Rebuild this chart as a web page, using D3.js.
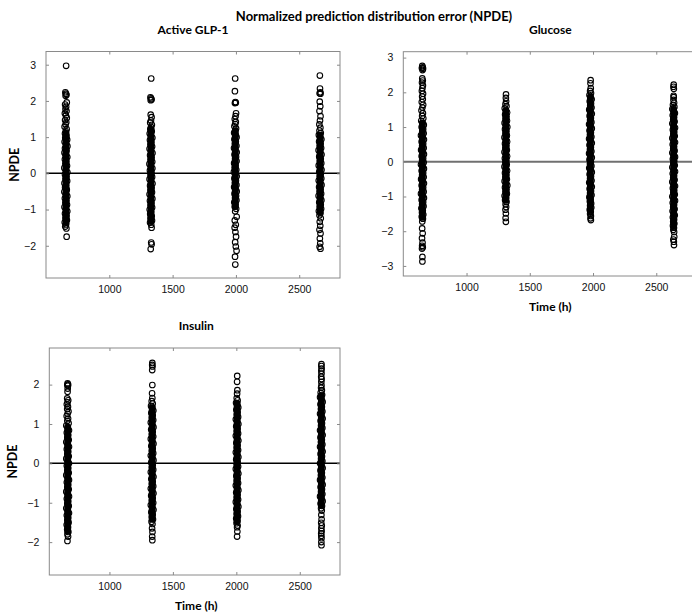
<!DOCTYPE html>
<html>
<head>
<meta charset="utf-8">
<script src="https://cdn.jsdelivr.net/npm/d3@7"></script>
<style>
body { margin: 0; background: #fff; }
svg { display: block; font-family: Lato, "Open Sans", sans-serif; }
.tick text { font-size: 10.5px; fill: #111; }
</style>
</head>
<body>
<svg id="chart" width="692" height="615"></svg>
<script>
"use strict";

const timeTicks = [1000, 1500, 2000, 2500];
const glp1Ticks = [-2, -1, 0, 1, 2, 3];
const glucoseTicks = [-3, -2, -1, 0, 1, 2, 3];
const insulinTicks = [-2, -1, 0, 1, 2];

// [time (h), NPDE] per visit
const glp1 = [
  [[659,2.97],[653,2.24],[657,2.2],[662,2.17],[655,2.14],[664,1.96],[651,1.9],[659,1.84],[654,1.78],[662,1.72],[649,1.66],[657,1.6],[664,1.53],[651,1.47],[660,1.41],[655,1.35],[647,1.29],[663,1.22],[656,1.16],[650,1.1],[661,1.04],[652,0.98],[667,0.93],[647,0.87],[658,0.81],[669,0.75],[650,0.69],[662,0.63],[646,0.57],[655,0.51],[668,0.45],[649,0.39],[660,0.33],[653,0.27],[666,0.21],[645,0.15],[657,0.09],[669,0.03],[650,-0.03],[662,-0.09],[654,-0.15],[667,-0.21],[646,-0.27],[658,-0.33],[651,-0.39],[664,-0.45],[645,-0.51],[656,-0.57],[668,-0.63],[649,-0.69],[661,-0.75],[653,-0.81],[666,-0.87],[646,-0.93],[657,-0.99],[668,-1.05],[650,-1.11],[662,-1.17],[654,-1.23],[665,-1.29],[648,-1.35],[658,-1.41],[652,-1.47],[661,-1.52],[663,-1.75]],
  [[1331,2.62],[1325,2.1],[1330,2.07],[1334,2.04],[1327,2.02],[1327,1.62],[1334,1.55],[1329,1.46],[1323,1.4],[1336,1.34],[1330,1.28],[1324,1.22],[1335,1.16],[1319,1.1],[1329,1.04],[1340,0.98],[1321,0.92],[1332,0.86],[1325,0.8],[1338,0.74],[1318,0.68],[1330,0.62],[1341,0.56],[1322,0.5],[1334,0.44],[1326,0.38],[1339,0.32],[1317,0.26],[1328,0.2],[1340,0.14],[1321,0.08],[1333,0.02],[1326,-0.04],[1338,-0.1],[1318,-0.16],[1330,-0.22],[1341,-0.28],[1322,-0.34],[1334,-0.4],[1325,-0.46],[1337,-0.52],[1318,-0.58],[1329,-0.64],[1340,-0.7],[1321,-0.76],[1333,-0.82],[1326,-0.88],[1338,-0.94],[1319,-1.0],[1330,-1.06],[1323,-1.12],[1335,-1.18],[1326,-1.24],[1337,-1.3],[1322,-1.36],[1331,-1.42],[1334,-1.5],[1331,-1.91],[1334,-1.96],[1327,-2.09]],
  [[1994,2.62],[1992,2.27],[1996,1.97],[1992,1.94],[1999,1.95],[2001,1.66],[1997,1.58],[1991,1.5],[1999,1.42],[1994,1.36],[1988,1.3],[2001,1.24],[1995,1.18],[1986,1.12],[1998,1.06],[2005,1.0],[1988,0.94],[1999,0.88],[1992,0.82],[2004,0.76],[1985,0.7],[1996,0.64],[2006,0.58],[1989,0.52],[2001,0.46],[1994,0.4],[2005,0.34],[1986,0.28],[1997,0.22],[1990,0.16],[2003,0.1],[1984,0.04],[1996,-0.02],[2006,-0.08],[1988,-0.14],[2000,-0.2],[1992,-0.26],[2004,-0.32],[1986,-0.38],[1997,-0.44],[2006,-0.5],[1989,-0.56],[2001,-0.62],[1994,-0.68],[2004,-0.74],[1987,-0.8],[1997,-0.86],[1991,-0.92],[2002,-0.98],[1994,-1.05],[2006,-1.2],[1991,-1.3],[1999,-1.42],[1990,-1.5],[1996,-1.62],[2001,-1.75],[1994,-1.9],[1999,-2.02],[2005,-2.14],[1993,-2.3],[1995,-2.52]],
  [[2663,2.7],[2664,2.34],[2667,2.24],[2661,2.21],[2668,2.2],[2662,1.98],[2666,1.85],[2660,1.72],[2668,1.58],[2664,1.46],[2659,1.35],[2667,1.26],[2660,1.18],[2670,1.12],[2655,1.06],[2665,1.0],[2675,0.94],[2657,0.88],[2669,0.82],[2662,0.76],[2673,0.7],[2653,0.64],[2665,0.58],[2676,0.52],[2658,0.46],[2670,0.4],[2663,0.34],[2674,0.28],[2654,0.22],[2666,0.16],[2676,0.1],[2658,0.04],[2670,-0.02],[2662,-0.08],[2674,-0.14],[2654,-0.2],[2665,-0.26],[2676,-0.32],[2657,-0.38],[2669,-0.44],[2661,-0.5],[2673,-0.56],[2653,-0.62],[2665,-0.68],[2675,-0.74],[2658,-0.8],[2670,-0.86],[2662,-0.92],[2673,-0.98],[2655,-1.04],[2667,-1.1],[2660,-1.16],[2670,-1.24],[2662,-1.34],[2666,-1.45],[2660,-1.56],[2668,-1.66],[2663,-1.8],[2666,-1.93],[2661,-2.03],[2668,-2.08]]
];

const glucose = [
  [[650,2.76],[654,2.72],[647,2.7],[656,2.68],[652,2.64],[650,2.4],[654,2.34],[648,2.28],[655,2.2],[651,2.12],[647,2.04],[656,1.96],[649,1.88],[654,1.8],[646,1.72],[657,1.64],[651,1.56],[644,1.48],[655,1.4],[649,1.32],[658,1.25],[642,1.18],[652,1.12],[662,1.06],[645,1.0],[657,0.94],[650,0.88],[661,0.82],[640,0.76],[653,0.7],[663,0.64],[645,0.58],[657,0.52],[649,0.46],[661,0.4],[641,0.34],[653,0.28],[663,0.22],[645,0.16],[657,0.1],[649,0.04],[661,-0.02],[640,-0.08],[653,-0.14],[663,-0.2],[645,-0.26],[657,-0.32],[649,-0.38],[661,-0.44],[641,-0.5],[653,-0.56],[663,-0.62],[645,-0.68],[657,-0.74],[649,-0.8],[661,-0.86],[640,-0.92],[653,-0.98],[663,-1.04],[645,-1.1],[657,-1.16],[649,-1.22],[660,-1.28],[643,-1.34],[654,-1.4],[648,-1.46],[658,-1.52],[646,-1.58],[655,-1.64],[650,-1.72],[649,-1.92],[653,-2.06],[648,-2.2],[652,-2.33],[649,-2.42],[654,-2.46],[648,-2.5],[651,-2.74],[651,-2.87]],
  [[1312,1.94],[1311,1.84],[1313,1.74],[1308,1.66],[1316,1.6],[1302,1.54],[1312,1.48],[1321,1.42],[1305,1.36],[1316,1.3],[1309,1.24],[1320,1.18],[1301,1.12],[1312,1.06],[1322,1.0],[1304,0.94],[1315,0.88],[1308,0.82],[1319,0.76],[1300,0.7],[1311,0.64],[1321,0.58],[1304,0.52],[1315,0.46],[1307,0.4],[1319,0.34],[1300,0.28],[1311,0.22],[1321,0.16],[1303,0.1],[1314,0.04],[1307,-0.02],[1318,-0.08],[1300,-0.14],[1311,-0.2],[1321,-0.26],[1304,-0.32],[1315,-0.38],[1307,-0.44],[1319,-0.5],[1301,-0.56],[1312,-0.62],[1322,-0.68],[1304,-0.74],[1316,-0.8],[1308,-0.86],[1319,-0.92],[1301,-0.98],[1312,-1.04],[1305,-1.1],[1316,-1.16],[1309,-1.22],[1313,-1.3],[1308,-1.38],[1311,-1.49],[1309,-1.62],[1311,-1.73]],
  [[1981,2.35],[1980,2.26],[1982,2.12],[1977,2.04],[1984,1.98],[1972,1.92],[1981,1.86],[1989,1.8],[1974,1.74],[1984,1.68],[1978,1.62],[1988,1.56],[1970,1.5],[1980,1.44],[1990,1.38],[1973,1.32],[1983,1.26],[1977,1.2],[1987,1.14],[1969,1.08],[1980,1.02],[1990,0.96],[1972,0.9],[1983,0.84],[1976,0.78],[1987,0.72],[1969,0.66],[1980,0.6],[1990,0.54],[1972,0.48],[1983,0.42],[1976,0.36],[1987,0.3],[1969,0.24],[1980,0.18],[1990,0.12],[1972,0.06],[1983,0.0],[1976,-0.06],[1987,-0.12],[1970,-0.18],[1981,-0.24],[1990,-0.3],[1973,-0.36],[1984,-0.42],[1977,-0.48],[1988,-0.54],[1970,-0.6],[1981,-0.66],[1990,-0.72],[1973,-0.78],[1984,-0.84],[1977,-0.9],[1988,-0.96],[1971,-1.02],[1981,-1.08],[1975,-1.14],[1985,-1.2],[1977,-1.26],[1986,-1.32],[1974,-1.38],[1982,-1.44],[1977,-1.5],[1983,-1.56],[1980,-1.63],[1983,-1.68]],
  [[2638,2.22],[2636,2.16],[2639,2.1],[2637,1.9],[2638,1.86],[2636,1.78],[2641,1.7],[2632,1.64],[2643,1.58],[2627,1.52],[2638,1.46],[2647,1.4],[2630,1.34],[2641,1.28],[2634,1.22],[2645,1.16],[2627,1.1],[2638,1.04],[2648,0.98],[2631,0.92],[2642,0.86],[2635,0.8],[2646,0.74],[2627,0.68],[2638,0.62],[2648,0.56],[2630,0.5],[2641,0.44],[2634,0.38],[2645,0.32],[2627,0.26],[2638,0.2],[2648,0.14],[2631,0.08],[2642,0.02],[2635,-0.04],[2646,-0.1],[2627,-0.16],[2638,-0.22],[2648,-0.28],[2630,-0.34],[2641,-0.4],[2634,-0.46],[2645,-0.52],[2627,-0.58],[2638,-0.64],[2648,-0.7],[2631,-0.76],[2642,-0.82],[2635,-0.88],[2646,-0.94],[2627,-1.0],[2638,-1.06],[2648,-1.12],[2630,-1.18],[2641,-1.24],[2634,-1.3],[2645,-1.36],[2629,-1.42],[2639,-1.48],[2646,-1.54],[2631,-1.6],[2641,-1.66],[2634,-1.72],[2643,-1.78],[2632,-1.84],[2640,-1.9],[2635,-1.96],[2641,-2.02],[2642,-2.16],[2635,-2.24],[2639,-2.3],[2640,-2.4]]
];

const insulin = [
  [[670,2.03],[674,2.01],[668,1.99],[673,1.97],[671,1.9],[670,1.82],[667,1.65],[675,1.6],[670,1.55],[664,1.5],[673,1.44],[667,1.38],[677,1.32],[670,1.26],[663,1.2],[674,1.14],[668,1.08],[678,1.02],[660,0.96],[671,0.9],[681,0.84],[664,0.78],[675,0.72],[668,0.66],[679,0.6],[660,0.54],[671,0.48],[681,0.42],[664,0.36],[675,0.3],[668,0.24],[679,0.18],[660,0.12],[671,0.06],[681,0.0],[664,-0.06],[675,-0.12],[668,-0.18],[679,-0.24],[660,-0.3],[671,-0.36],[681,-0.42],[664,-0.48],[675,-0.54],[668,-0.6],[679,-0.66],[660,-0.72],[671,-0.78],[681,-0.84],[664,-0.9],[675,-0.96],[668,-1.02],[679,-1.08],[660,-1.14],[671,-1.2],[681,-1.26],[664,-1.32],[675,-1.38],[668,-1.44],[678,-1.5],[663,-1.56],[673,-1.62],[667,-1.68],[676,-1.74],[669,-1.8],[674,-1.86],[669,-1.97]],
  [[1338,2.55],[1337,2.5],[1339,2.46],[1337,2.37],[1338,1.99],[1336,1.78],[1338,1.66],[1333,1.58],[1341,1.52],[1328,1.46],[1337,1.4],[1346,1.34],[1330,1.28],[1341,1.22],[1334,1.16],[1345,1.1],[1326,1.04],[1337,0.98],[1347,0.92],[1329,0.86],[1341,0.8],[1334,0.74],[1345,0.68],[1326,0.62],[1337,0.56],[1347,0.5],[1330,0.44],[1341,0.38],[1334,0.32],[1345,0.26],[1326,0.2],[1337,0.14],[1347,0.08],[1329,0.02],[1341,-0.04],[1334,-0.1],[1345,-0.16],[1326,-0.22],[1337,-0.28],[1347,-0.34],[1330,-0.4],[1341,-0.46],[1334,-0.52],[1345,-0.58],[1326,-0.64],[1337,-0.7],[1347,-0.76],[1329,-0.82],[1341,-0.88],[1334,-0.94],[1345,-1.0],[1326,-1.06],[1337,-1.12],[1347,-1.18],[1330,-1.24],[1341,-1.3],[1334,-1.36],[1343,-1.42],[1332,-1.48],[1339,-1.54],[1336,-1.65],[1339,-1.74],[1337,-1.86],[1338,-1.95]],
  [[2007,2.22],[2006,2.07],[2008,1.86],[2006,1.77],[2003,1.66],[2010,1.6],[1998,1.54],[2007,1.48],[2015,1.42],[2000,1.36],[2010,1.3],[2004,1.24],[2014,1.18],[1996,1.12],[2007,1.06],[2016,1.0],[1999,0.94],[2010,0.88],[2003,0.82],[2014,0.76],[1996,0.7],[2007,0.64],[2016,0.58],[2000,0.52],[2010,0.46],[2003,0.4],[2014,0.34],[1996,0.28],[2007,0.22],[2016,0.16],[1999,0.1],[2010,0.04],[2003,-0.02],[2014,-0.08],[1996,-0.14],[2007,-0.2],[2016,-0.26],[2000,-0.32],[2010,-0.38],[2003,-0.44],[2014,-0.5],[1996,-0.56],[2007,-0.62],[2016,-0.68],[1999,-0.74],[2010,-0.8],[2003,-0.86],[2014,-0.92],[1996,-0.98],[2007,-1.04],[2016,-1.1],[2000,-1.16],[2010,-1.22],[2003,-1.28],[2013,-1.34],[1999,-1.4],[2009,-1.46],[2002,-1.52],[2010,-1.58],[2006,-1.62],[2008,-1.73],[2006,-1.86]],
  [[2671,2.52],[2670,2.47],[2672,2.41],[2670,2.35],[2671,2.28],[2669,2.2],[2672,2.14],[2670,2.07],[2671,1.98],[2668,1.92],[2674,1.86],[2665,1.8],[2676,1.74],[2660,1.68],[2671,1.62],[2680,1.56],[2663,1.5],[2674,1.44],[2667,1.38],[2678,1.32],[2660,1.26],[2671,1.2],[2680,1.14],[2664,1.08],[2675,1.02],[2668,0.96],[2678,0.9],[2660,0.84],[2671,0.78],[2680,0.72],[2663,0.66],[2674,0.6],[2667,0.54],[2678,0.48],[2660,0.42],[2671,0.36],[2680,0.3],[2664,0.24],[2675,0.18],[2668,0.12],[2678,0.06],[2660,0.0],[2671,-0.06],[2680,-0.12],[2663,-0.18],[2674,-0.24],[2667,-0.3],[2678,-0.36],[2660,-0.42],[2671,-0.48],[2680,-0.54],[2664,-0.6],[2675,-0.66],[2668,-0.72],[2678,-0.78],[2660,-0.84],[2671,-0.9],[2680,-0.96],[2664,-1.02],[2675,-1.08],[2668,-1.14],[2673,-1.2],[2670,-1.31],[2672,-1.42],[2669,-1.51],[2673,-1.58],[2670,-1.65],[2672,-1.72],[2669,-1.78],[2670,-1.84],[2671,-1.9],[2670,-2.0],[2671,-2.08]]
];

// overplotted cores of each visit: [time (h), lowest NPDE, highest NPDE]
const glp1Core = [[658,-1.45,1.2],[1329,-1.42,1.3],[1995,-1.0,1.25],[2665,-1.15,1.15]];
const glucoseCore = [[651,-1.7,1.2],[1311,-1.2,1.55],[1979,-1.5,1.95],[2637,-1.95,1.6]];
const insulinCore = [[671,-1.8,1.0],[1337,-1.5,1.5],[2006,-1.55,1.6],[2670,-1.15,1.8]];

const panels = [
  { title: 'Active GLP-1', data: glp1, core: glp1Core, yTicks: glp1Ticks,
    left: 46, right: 340, top: 51.5, bottom: 278,
    xDomain: [500, 2822], yDomain: [-2.89, 3.365],
    zeroColor: '#000', zeroWidth: 1.5, yLabelX: 15, xLabel: false },
  { title: 'Glucose', data: glucose, core: glucoseCore, yTicks: glucoseTicks,
    left: 403.3, right: 697, top: 51.7, bottom: 276,
    xDomain: [500, 2822], yDomain: [-3.29, 3.17],
    zeroColor: '#707070', zeroWidth: 2, yLabelX: null, xLabel: true },
  { title: 'Insulin', data: insulin, core: insulinCore, yTicks: insulinTicks,
    left: 49.3, right: 340, top: 348, bottom: 575,
    xDomain: [526, 2817], yDomain: [-2.835, 2.93],
    zeroColor: '#000', zeroWidth: 1.5, yLabelX: 13, xLabel: true }
];

const boxColor = '#8a8a8a';

function minusFormat(d)
{
  return d < 0 ? '\u2212' + Math.abs(d) : String(d);
}

function drawPanel(svg, p)
{
  let x = d3.scaleLinear().domain(p.xDomain).range([p.left, p.right]);
  let y = d3.scaleLinear().domain(p.yDomain).range([p.bottom, p.top]);
  let g = svg.append('g');
  let cx = p.left + 147;

  g.append('text')
    .attr('x', cx)
    .attr('y', p.top - 18)
    .attr('text-anchor', 'middle')
    .style('font-size', '12px')
    .style('font-weight', 'bold')
    .text(p.title);

  g.append('line')
    .attr('x1', p.left).attr('x2', p.right)
    .attr('y1', y(0)).attr('y2', y(0))
    .attr('stroke', p.zeroColor)
    .attr('stroke-width', p.zeroWidth);

  g.append('g')
    .selectAll('rect')
    .data(p.core)
    .join('rect')
    .attr('x', d => x(d[0]) - 3.4)
    .attr('width', 6.8)
    .attr('y', d => y(d[2]))
    .attr('height', d => y(d[1]) - y(d[2]))
    .attr('rx', 2)
    .attr('fill', '#000');

  g.append('g')
    .selectAll('circle')
    .data(p.data.flat())
    .join('circle')
    .attr('cx', d => x(d[0]))
    .attr('cy', d => y(d[1]))
    .attr('r', 2.8)
    .attr('fill', 'none')
    .attr('stroke', '#000')
    .attr('stroke-width', 1.1);

  g.append('rect')
    .attr('x', p.left).attr('y', p.top)
    .attr('width', p.right - p.left).attr('height', p.bottom - p.top)
    .attr('fill', 'none')
    .attr('stroke', boxColor);

  let axes = [
    [d3.axisBottom(x).tickValues(timeTicks).tickFormat(d3.format('d')).tickPadding(8), p.bottom, 0],
    [d3.axisTop(x).tickValues(timeTicks).tickFormat(''), p.top, 0],
    [d3.axisLeft(y).tickValues(p.yTicks).tickPadding(10).tickFormat(minusFormat), 0, p.left],
    [d3.axisRight(y).tickValues(p.yTicks).tickFormat(''), 0, p.right]
  ];
  axes.forEach(a =>
  {
    let ax = g.append('g')
      .attr('transform', `translate(${a[2]},${a[1]})`)
      .call(a[0].tickSizeInner(-3).tickSizeOuter(0));
    ax.select('.domain').remove();
    ax.selectAll('.tick line').attr('stroke', boxColor);
  });
  g.selectAll('.tick text').attr('font-family', null).attr('font-size', null);

  if (p.xLabel)
  {
    g.append('text')
      .attr('x', cx)
      .attr('y', p.bottom + 35)
      .attr('text-anchor', 'middle')
      .style('font-size', '12px')
      .style('font-weight', 'bold')
      .text('Time (h)');
  }
  if (p.yLabelX !== null)
  {
    g.append('text')
      .attr('transform', `translate(${p.yLabelX},${(p.top + p.bottom) / 2}) rotate(-90)`)
      .attr('text-anchor', 'middle')
      .attr('dy', '0.35em')
      .style('font-size', '12.5px')
      .style('font-weight', 'bold')
      .text('NPDE');
  }
}

let svg = d3.select('#chart');

svg.append('text')
  .attr('x', 374)
  .attr('y', 21)
  .attr('text-anchor', 'middle')
  .style('font-size', '13px')
  .style('font-weight', 'bold')
  .text('Normalized prediction distribution error (NPDE)');

panels.forEach(p => drawPanel(svg, p));
</script>
</body>
</html>
